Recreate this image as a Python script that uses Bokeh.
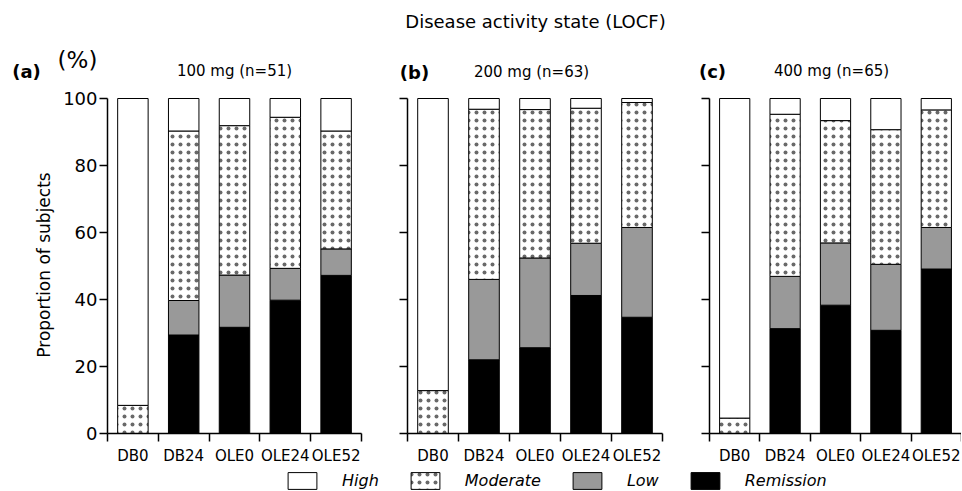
import numpy as np
from bokeh.plotting import figure
from bokeh.models import ColumnDataSource, Range1d, FixedTicker, Label, Legend, LegendItem
from bokeh.layouts import row, column
from bokeh.embed import file_html
from bokeh.resources import INLINE

# ---------------- data ----------------
timepoints = ["DB0", "DB24", "OLE0", "OLE24", "OLE52"]
states = ["Remission", "Low", "Moderate", "High"]          # stacking order, bottom -> top
legend_order = ["High", "Moderate", "Low", "Remission"]
main_title = "Disease activity state (LOCF)"
y_label = "Proportion of subjects"
y_unit = "(%)"
y_ticks = [0, 20, 40, 60, 80, 100]
dose_titles = ["100 mg (n=51)", "200 mg (n=63)", "400 mg (n=65)"]
panel_letters = ["(a)", "(b)", "(c)"]

# percentages of subjects in each state
remission_100 = [0.0, 29.4, 31.7, 39.8, 47.2]
low_100 = [0.0, 10.3, 15.6, 9.5, 7.9]
moderate_100 = [8.4, 50.6, 44.6, 45.1, 35.2]
high_100 = [91.6, 9.7, 8.1, 5.6, 9.7]

remission_200 = [0.0, 22.0, 25.6, 41.2, 34.7]
low_200 = [0.0, 24.0, 26.8, 15.6, 26.8]
moderate_200 = [12.8, 50.8, 44.3, 40.3, 37.3]
high_200 = [87.2, 3.2, 3.3, 2.9, 1.2]

remission_400 = [0.0, 31.3, 38.3, 30.8, 49.1]
low_400 = [0.0, 15.6, 18.6, 19.7, 12.4]
moderate_400 = [4.6, 48.4, 36.5, 40.2, 35.1]
high_400 = [95.4, 4.7, 6.6, 9.3, 3.4]

panels_data = [
    {"Remission": remission_100, "Low": low_100, "Moderate": moderate_100, "High": high_100},
    {"Remission": remission_200, "Low": low_200, "Moderate": moderate_200, "High": high_200},
    {"Remission": remission_400, "Low": low_400, "Moderate": moderate_400, "High": high_400},
]

# ---------------- styles ----------------
FONT = "DejaVu Sans"
STYLE = {
    "Remission": dict(fill_color="black", hatch_pattern=None),
    "Low": dict(fill_color="#999999", hatch_pattern=None),
    "Moderate": dict(fill_color="white", hatch_pattern="dot"),
    "High": dict(fill_color="white", hatch_pattern=None),
}

def bar_kwargs(state):
    st = STYLE[state]
    kw = dict(fill_color=st["fill_color"], line_color="black", line_width=1)
    if st["hatch_pattern"]:
        kw.update(hatch_pattern=st["hatch_pattern"], hatch_color="#444444",
                  hatch_alpha=0.8, hatch_scale=8, hatch_weight=1)
    return kw

TOTAL_W = 961
HEADER_H = 84
PANEL_H = 386
LEGEND_H = 21

# per panel: (figure width, border left, border right)
panel_layout = [(384, 107, 23), (301, 23, 23), (276, 24, 0)]
# header text positions (canvas px, y from top)
letter_pos = [(26, 71), (414, 72), (712, 71)]
title_pos = [(234, 70), (531, 71), (831, 70)]
unit_pos = (77, 59)
main_pos = (535, 21)

# ---------------- header strip ----------------
hd = figure(width=TOTAL_W, height=HEADER_H, output_backend="svg", toolbar_location=None,
            x_range=Range1d(0, TOTAL_W), y_range=Range1d(HEADER_H, 0),
            min_border=0, min_border_left=0, min_border_right=0,
            min_border_top=0, min_border_bottom=0)
hd.axis.visible = False
hd.xgrid.visible = False
hd.ygrid.visible = False
hd.outline_line_color = None

def add_text(fig, xy, text, size, style="normal"):
    fig.add_layout(Label(x=xy[0], y=xy[1], text=text, text_font=FONT,
                         text_font_size=size, text_font_style=style,
                         text_color="black", text_align="center",
                         text_baseline="middle"))

add_text(hd, main_pos, main_title, "18px")
add_text(hd, unit_pos, y_unit, "23px")
for i in range(3):
    add_text(hd, letter_pos[i], panel_letters[i], "18px", "bold")
    add_text(hd, title_pos[i], dose_titles[i], "15px")

# ---------------- panels ----------------
centers = np.arange(len(timepoints)) + 0.5
bounds = np.arange(len(timepoints) + 1).astype(float)

figs = []
for i, data in enumerate(panels_data):
    w, bl, br = panel_layout[i]
    p = figure(width=w, height=PANEL_H, output_backend="svg", toolbar_location=None,
               x_range=Range1d(0, len(timepoints)), y_range=Range1d(0, 100.6),
               min_border_left=bl, min_border_right=br, min_border_top=12,
               min_border_bottom=37)
    p.outline_line_color = None
    p.xgrid.visible = False
    p.ygrid.visible = False

    bottom = np.zeros(len(timepoints))
    for s in states:
        vals = np.array(data[s], dtype=float)
        src = ColumnDataSource(dict(x=centers, bottom=bottom.copy(), top=bottom + vals))
        p.vbar(x="x", bottom="bottom", top="top", width=0.6, source=src, **bar_kwargs(s))
        bottom = bottom + vals

    # y axis
    ya = p.yaxis[0]
    ya.ticker = FixedTicker(ticks=y_ticks, minor_ticks=[])
    ya.bounds = (0, 100)
    ya.axis_line_width = 1.5
    ya.major_tick_line_width = 1.5
    ya.major_tick_out = 8
    ya.major_tick_in = 0
    ya.major_label_text_font = FONT
    ya.major_label_text_font_size = "18px"
    ya.major_label_text_color = "black"
    ya.major_label_standoff = 2
    if i == 0:
        ya.axis_label = y_label
        ya.axis_label_text_font = FONT
        ya.axis_label_text_font_size = "17px"
        ya.axis_label_text_font_style = "normal"
        ya.axis_label_text_color = "black"
        ya.axis_label_standoff = 6
    else:
        ya.major_label_overrides = {t: "" for t in y_ticks}

    # x axis: labels at category centres, ticks at category boundaries
    xa = p.xaxis[0]
    xa.ticker = FixedTicker(ticks=list(centers), minor_ticks=list(bounds))
    xa.major_label_overrides = {float(c): t for c, t in zip(centers, timepoints)}
    xa.axis_line_width = 1.5
    xa.major_tick_out = 0
    xa.major_tick_in = 0
    xa.minor_tick_out = 8
    xa.minor_tick_in = 0
    xa.minor_tick_line_color = "black"
    xa.minor_tick_line_width = 1.5
    xa.major_label_text_font = FONT
    xa.major_label_text_font_size = "15px"
    xa.major_label_text_color = "black"
    xa.major_label_standoff = 5
    figs.append(p)

# ---------------- legend strip ----------------
lg = figure(width=TOTAL_W, height=LEGEND_H, output_backend="svg", toolbar_location=None,
            x_range=Range1d(0, 1), y_range=Range1d(0, 1),
            min_border=0, min_border_left=0, min_border_right=0,
            min_border_top=0, min_border_bottom=0)
lg.axis.visible = False
lg.xgrid.visible = False
lg.ygrid.visible = False
lg.outline_line_color = None
items = []
for s in legend_order:
    # legend swatches only: the bar itself lies outside the strip's range
    src = ColumnDataSource(dict(x=[5.0], bottom=[5.0], top=[6.0]))
    r = lg.vbar(x="x", bottom="bottom", top="top", width=0.5, source=src, **bar_kwargs(s))
    items.append(LegendItem(label=s, renderers=[r]))
leg = Legend(items=items, orientation="horizontal", location=(284, 0),
             glyph_width=36, glyph_height=21, label_standoff=22, spacing=28,
             padding=0, margin=0, border_line_color=None, background_fill_alpha=0,
             label_text_font=FONT, label_text_font_size="16px",
             label_text_font_style="italic", label_text_color="black")
lg.add_layout(leg)

layout_root = column(hd, row(*figs), lg)
open("out.html", "w").write(file_html(layout_root, INLINE))
